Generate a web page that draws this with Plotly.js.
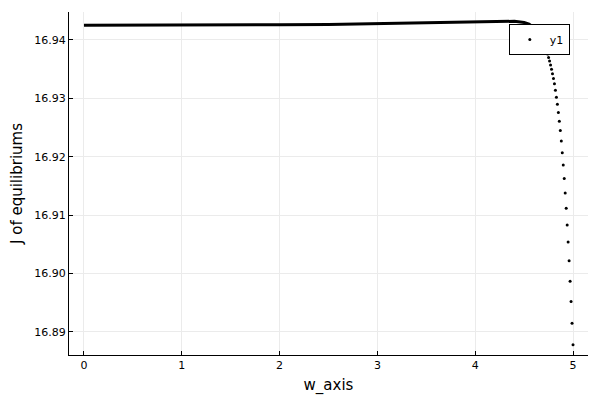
<!DOCTYPE html>
<html>
<head>
<script src="https://cdn.plot.ly/plotly-3.0.1.min.js"></script>
<style>body{margin:0}#chart{width:600px;height:400px}</style>
</head>
<body>
<div id="chart"></div>
<script>
// flat section (points so dense they read as a line)
const wFlat = [0, 0.5, 1, 1.5, 2, 2.5, 3, 3.5, 4, 4.2, 4.4, 4.5, 4.55, 4.6];
const jFlat = [16.9425, 16.9425, 16.9425, 16.94255, 16.9426, 16.94265, 16.9428, 16.9429, 16.9431, 16.9432, 16.9432, 16.9430, 16.9427, 16.9421];

// tail section, individual dots
const wTail = [4.65, 4.68, 4.70, 4.72, 4.74, 4.75, 4.76, 4.77, 4.78, 4.79,
  4.80, 4.81, 4.82, 4.83, 4.84, 4.85, 4.86, 4.87, 4.88, 4.89,
  4.90, 4.91, 4.92, 4.93, 4.94, 4.95, 4.96, 4.97, 4.98, 4.99, 5.00];
const jTail = [16.9412, 16.9403, 16.9395, 16.9386, 16.9376, 16.9370, 16.9364, 16.9357, 16.9350, 16.9342,
  16.9334, 16.9325, 16.9314, 16.9302, 16.9290, 16.9276, 16.9261, 16.9245, 16.9227, 16.9207,
  16.9186, 16.9163, 16.9138, 16.9112, 16.9083, 16.9054, 16.9022, 16.8987, 16.8952, 16.8915, 16.8878];

const flat = {
  x: wFlat, y: jFlat, mode: "lines", line: {color: "black", width: 3, shape: "linear"},
  showlegend: false, hoverinfo: "skip"
};
const tail = {
  x: wTail, y: jTail, mode: "markers", name: "y1",
  marker: {color: "black", size: 3}
};

const layout = {
  width: 600, height: 400,
  margin: {l: 69, r: 12, t: 12, b: 45},
  paper_bgcolor: "white", plot_bgcolor: "white",
  font: {family: "DejaVu Sans", color: "black", size: 11},
  xaxis: {
    title: {text: "w_axis", font: {size: 15}, standoff: 8},
    range: [-0.153, 5.153], tickvals: [0, 1, 2, 3, 4, 5],
    showgrid: true, gridcolor: "#ebebeb", zeroline: false,
    showline: true, linecolor: "black", ticks: "inside", ticklen: 4, tickcolor: "black"
  },
  yaxis: {
    title: {text: "J of equilibriums", font: {size: 15}, standoff: 8},
    range: [16.88606, 16.94479], tickvals: [16.89, 16.90, 16.91, 16.92, 16.93, 16.94],
    tickformat: ".2f",
    showgrid: true, gridcolor: "#ebebeb", zeroline: false,
    showline: true, linecolor: "black", ticks: "inside", ticklen: 4, tickcolor: "black"
  },
  legend: {
    x: 0.965, y: 0.965, xanchor: "right", yanchor: "top",
    bgcolor: "white", bordercolor: "black", borderwidth: 1,
    font: {size: 11}, entrywidth: 40, entrywidthmode: "pixels"
  },
  showlegend: true
};

Plotly.newPlot("chart", [flat, tail], layout, {displayModeBar: false}).then(() => {
  // legend marker bigger like reference
  document.querySelectorAll(".legend .scatterpts path").forEach(p => p.setAttribute("transform", "scale(3)"));
});
</script>
</body>
</html>
